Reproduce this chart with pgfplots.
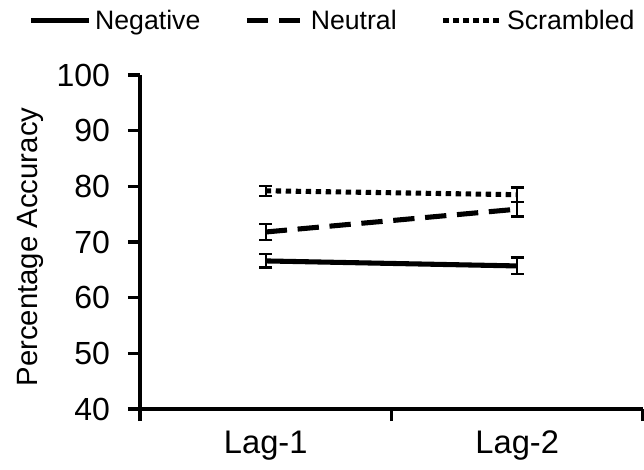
\documentclass[border=0pt]{standalone}
\usepackage{pgfplots}
\pgfplotsset{compat=1.18}
\usepackage{fontspec}
\setmainfont{Liberation Sans}

\begin{document}
\begin{tikzpicture}
\useasboundingbox (-105pt,-45pt) rectangle (378pt,306.75pt);
\begin{axis}[
    scale only axis,
    width=377.25pt, height=250.5pt,
    xmin=0.5, xmax=2.5,
    ymin=40, ymax=100,
    ytick={40,50,...,100},
    xtick={1,2},
    xticklabels={Lag-1,Lag-2},
    axis x line*=bottom, axis y line*=left,
    axis line style={line width=2.6pt, black},
    tick align=outside,
    major tick length=9pt,
    y tick style={line width=2.6pt, black},
    x tick style={draw=none},
    extra x ticks={0.5,1.5,2.5},
    extra x tick labels={},
    extra x tick style={x tick style={draw=black, line width=2.6pt}},
    /pgf/number format/assume math mode=true,
    yticklabel style={font=\fontsize{24}{28}\selectfont, xshift=-10pt},
    xticklabel style={font=\fontsize{24.5}{28}\selectfont, yshift=-4pt},
    ylabel={Percentage Accuracy},
    ylabel style={font=\fontsize{22}{26}\selectfont, at={(rel axis cs:0,0.485)}, anchor=center, yshift=82pt},
    legend columns=3,
    legend style={at={(rel axis cs:0.385,1.215)}, anchor=north, draw=none, fill=none,
        font=\fontsize{20}{24}\selectfont,
        nodes={inner sep=3pt},
        /tikz/every even column/.append style={column sep=30pt}},
    legend image code/.code={\draw[#1] (0pt,0pt) -- (43pt,0pt);},
    every axis plot/.append style={black, line width=3.8pt},
    error bars/y dir=both, error bars/y explicit,
    error bars/error bar style={line width=1.8pt, solid},
    error bars/error mark options={rotate=90, line width=1.8pt, mark size=5pt, solid},
]
\addplot[solid] coordinates {
    (1,66.6) +- (0,1.2)
    (2,65.7) +- (0,1.5)
};
\addlegendentry{Negative}
\addplot[dash pattern=on 16pt off 8pt] coordinates {
    (1,71.8) +- (0,1.4)
    (2,75.9) +- (0,1.3)
};
\addlegendentry{Neutral}
\addplot[dash pattern=on 4pt off 3.5pt] coordinates {
    (1,79.2) +- (0,0.9)
    (2,78.5) +- (0,1.3)
};
\addlegendentry{Scrambled}
\end{axis}
\end{tikzpicture}
\end{document}
